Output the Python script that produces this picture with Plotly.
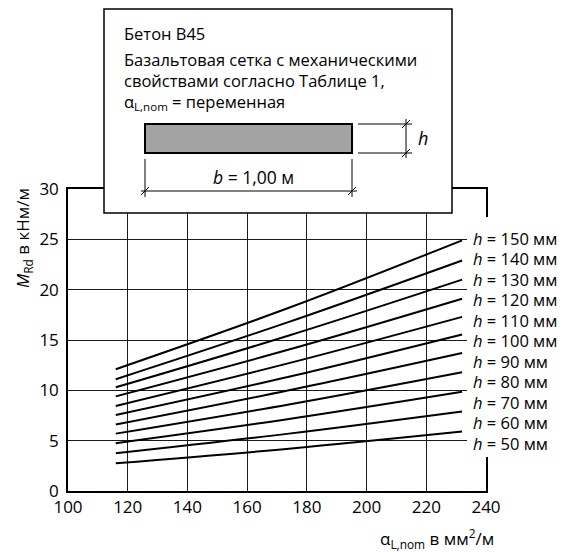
import plotly.graph_objects as go
import numpy as np

# ---- data ----
alpha_nom = [116, 174, 232]          # α_L,nom в мм²/м
h_mm = [150, 140, 130, 120, 110, 100, 90, 80, 70, 60, 50]
m_h150 = [12.1, 18.2, 24.9]
m_h140 = [11.1, 16.8, 22.9]
m_h130 = [10.3, 15.45, 21.0]
m_h120 = [9.4, 14.05, 19.1]
m_h110 = [8.45, 12.7, 17.3]
m_h100 = [7.55, 11.35, 15.55]
m_h90 = [6.6, 10.0, 13.7]
m_h80 = [5.7, 8.6, 11.8]
m_h70 = [4.75, 7.15, 9.85]
m_h60 = [3.75, 5.7, 7.9]
m_h50 = [2.75, 4.2, 5.9]
series = [m_h150, m_h140, m_h130, m_h120, m_h110, m_h100,
          m_h90, m_h80, m_h70, m_h60, m_h50]
x_ticks = [100, 120, 140, 160, 180, 200, 220, 240]
y_ticks = [0, 5, 10, 15, 20, 25, 30]

FONT = "Open Sans"
W, H = 568, 552
L, R, T, B = 68, 486, 189, 491   # plot area in pixels

def px(xp):
    return (xp - L) / (R - L)

def py(yp):
    return (B - yp) / (B - T)

fig = go.Figure()
for h, vals in zip(h_mm, series):
    fig.add_trace(go.Scatter(x=alpha_nom, y=vals, mode="lines",
                             line=dict(color="black", width=2, shape="spline"),
                             name=f"h = {h} мм", showlegend=False,
                             hoverinfo="skip"))

shapes = []
# white area behind the right-hand labels
shapes.append(dict(type="rect", xref="paper", yref="paper",
                   x0=px(467), x1=px(575), y0=py(457), y1=py(217),
                   fillcolor="white", line=dict(width=0), layer="above"))
# info box
shapes.append(dict(type="rect", xref="paper", yref="paper",
                   x0=px(104), x1=px(452), y0=py(213), y1=py(9),
                   fillcolor="white", line=dict(color="black", width=1.5), layer="above"))
# grey cross-section
shapes.append(dict(type="rect", xref="paper", yref="paper",
                   x0=px(145), x1=px(352), y0=py(153), y1=py(124),
                   fillcolor="#a3a3a3", line=dict(color="black", width=2), layer="above"))

def seg(x0, y0, x1, y1, w=1):
    shapes.append(dict(type="line", xref="paper", yref="paper",
                       x0=px(x0), y0=py(y0), x1=px(x1), y1=py(y1),
                       line=dict(color="black", width=w), layer="above"))

# h dimension
seg(358, 124, 412, 124)
seg(358, 153, 412, 153)
seg(406, 119, 406, 158)
seg(402, 128, 410, 120)
seg(402, 157, 410, 149)
# b dimension
seg(145, 159, 145, 197)
seg(352, 159, 352, 197)
seg(141, 191, 357, 191)
seg(141, 195, 149, 187)
seg(348, 195, 356, 187)

annotations = []
box_lines = [
    (34, "Бетон В45"),
    (60, "Базальтовая сетка с механическими"),
    (81, "свойствами согласно Таблице 1,"),
    (102, "α<sub>L,nom</sub> = переменная"),
]
for yy, txt in box_lines:
    annotations.append(dict(xref="paper", yref="paper", x=px(122), y=py(yy),
                            xanchor="left", yanchor="middle", text=txt,
                            showarrow=False, font=dict(family=FONT, size=16.5, color="black")))
annotations.append(dict(xref="paper", yref="paper", x=px(423), y=py(138),
                        xanchor="center", yanchor="middle", text="<i>h</i>",
                        showarrow=False, font=dict(family=FONT, size=18, color="black")))
annotations.append(dict(xref="paper", yref="paper", x=px(253), y=py(177),
                        xanchor="center", yanchor="middle", text="<i>b</i> = 1,00 м",
                        showarrow=False, font=dict(family=FONT, size=17.5, color="black")))

# right-hand series labels (evenly spaced)
label_y = np.linspace(py(238.3), py(443.3), len(h_mm))
for h, ly in zip(h_mm, label_y):
    annotations.append(dict(xref="paper", yref="paper", x=px(471), y=ly,
                            xanchor="left", yanchor="middle",
                            text=f"<i>h</i> = {h} мм", showarrow=False,
                            font=dict(family=FONT, size=16.5, color="black")))

# axis titles
annotations.append(dict(xref="paper", yref="paper", x=px(23), y=py(238),
                        xanchor="center", yanchor="middle", textangle=-90,
                        text="<i>M</i><sub>Rd</sub> в кНм/м", showarrow=False,
                        font=dict(family=FONT, size=17, color="black")))
annotations.append(dict(xref="paper", yref="paper", x=px(437), y=py(538),
                        xanchor="center", yanchor="middle",
                        text="α<sub>L,nom</sub> в мм<sup>2</sup>/м", showarrow=False,
                        font=dict(family=FONT, size=17, color="black")))

axis_common = dict(showline=True, linecolor="black", linewidth=1.5, mirror=True,
                   showgrid=True, gridcolor="#1a1a1a", gridwidth=1.2,
                   zeroline=False, ticks="", fixedrange=True,
                   tickfont=dict(family=FONT, size=17, color="black"))

fig.update_layout(
    width=W, height=H,
    margin=dict(l=L, r=W - R, t=T, b=H - B, pad=0),
    paper_bgcolor="white", plot_bgcolor="white",
    xaxis=dict(range=[100, 240], tickvals=x_ticks, **axis_common),
    yaxis=dict(range=[0, 30], tickvals=y_ticks, ticklabelstandoff=4, **axis_common),
    shapes=shapes, annotations=annotations,
    font=dict(family=FONT, color="black"),
)

fig.write_html("out.html")
